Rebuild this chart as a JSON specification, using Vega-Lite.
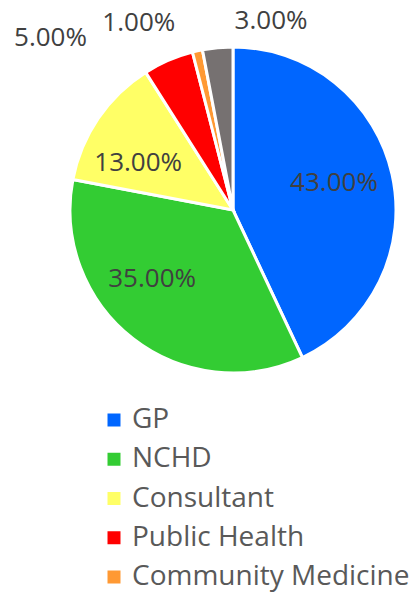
{
  "$schema": "https://vega.github.io/schema/vega-lite/v6.json",
  "autosize": "none",
  "padding": {"left": 52, "top": 0, "right": 0, "bottom": 172},
  "width": 362,
  "height": 420,
  "background": "white",
  "config": {"view": {"stroke": null}, "font": "Open Sans"},
  "data": {
    "values": [
      {"i": 1, "role": "GP", "pct": 43},
      {"i": 2, "role": "NCHD", "pct": 35},
      {"i": 3, "role": "Consultant", "pct": 13},
      {"i": 4, "role": "Public Health", "pct": 5},
      {"i": 5, "role": "Community Medicine", "pct": 1},
      {"i": 6, "role": "Other", "pct": 3}
    ]
  },
  "transform": [
    {"stack": "pct", "groupby": [], "sort": [{"field": "i", "order": "ascending"}], "as": ["s0", "s1"]},
    {"calculate": "(datum.s0 + datum.s1) / 2", "as": "mid"},
    {"calculate": "format(datum.pct, '.2f') + '%'", "as": "label"}
  ],
  "layer": [
    {
      "mark": {"type": "arc", "outerRadius": 163, "stroke": "white", "strokeWidth": 3},
      "encoding": {
        "theta": {"field": "pct", "type": "quantitative", "stack": true, "scale": {"domain": [0, 100]}},
        "order": {"field": "i", "type": "quantitative"},
        "color": {
          "field": "role",
          "type": "nominal",
          "scale": {
            "domain": ["GP", "NCHD", "Consultant", "Public Health", "Community Medicine", "Other"],
            "range": ["#0066FF", "#33CC33", "#FFFF66", "#FF0000", "#FF9933", "#767171"]
          },
          "legend": {
            "title": null,
            "values": ["GP", "NCHD", "Consultant", "Public Health", "Community Medicine"],
            "orient": "none",
            "legendX": 48,
            "legendY": 406,
            "padding": 0,
            "symbolType": "square",
            "symbolSize": 169,
            "symbolStrokeWidth": 0,
            "labelFont": "Open Sans",
            "labelFontSize": 28,
            "labelColor": "#595959",
            "labelOffset": 4,
            "rowPadding": 11.25,
            "labelLimit": 400
          }
        }
      }
    },
    {
      "transform": [{"filter": "datum.role == 'GP'"}],
      "mark": {"type": "text", "radius": 105, "dx": -1.5, "dy": -4.5, "fontSize": 26, "color": "#404040", "align": "center", "baseline": "middle"},
      "encoding": {"theta": {"field": "mid", "type": "quantitative", "stack": null, "scale": {"domain": [0, 100]}}, "text": {"field": "label"}}
    },
    {
      "transform": [{"filter": "datum.role == 'NCHD'"}],
      "mark": {"type": "text", "radius": 105, "dx": -16.5, "dy": -14, "fontSize": 26, "color": "#404040", "align": "center", "baseline": "middle"},
      "encoding": {"theta": {"field": "mid", "type": "quantitative", "stack": null, "scale": {"domain": [0, 100]}}, "text": {"field": "label"}}
    },
    {
      "transform": [{"filter": "datum.role == 'Consultant'"}],
      "mark": {"type": "text", "radius": 105, "dx": -8, "dy": 12.5, "fontSize": 26, "color": "#404040", "align": "center", "baseline": "middle"},
      "encoding": {"theta": {"field": "mid", "type": "quantitative", "stack": null, "scale": {"domain": [0, 100]}}, "text": {"field": "label"}}
    },
    {
      "transform": [{"filter": "datum.role == 'Public Health'"}],
      "mark": {"type": "text", "radius": 175, "dx": -113, "dy": -11, "fontSize": 26, "color": "#404040", "align": "center", "baseline": "middle"},
      "encoding": {"theta": {"field": "mid", "type": "quantitative", "stack": null, "scale": {"domain": [0, 100]}}, "text": {"field": "label"}}
    },
    {
      "transform": [{"filter": "datum.role == 'Community Medicine'"}],
      "mark": {"type": "text", "radius": 175, "dx": -56, "dy": -16, "fontSize": 26, "color": "#404040", "align": "center", "baseline": "middle"},
      "encoding": {"theta": {"field": "mid", "type": "quantitative", "stack": null, "scale": {"domain": [0, 100]}}, "text": {"field": "label"}}
    },
    {
      "transform": [{"filter": "datum.role == 'Other'"}],
      "mark": {"type": "text", "radius": 175, "dx": 54.5, "dy": -15, "fontSize": 26, "color": "#404040", "align": "center", "baseline": "middle"},
      "encoding": {"theta": {"field": "mid", "type": "quantitative", "stack": null, "scale": {"domain": [0, 100]}}, "text": {"field": "label"}}
    }
  ]
}
